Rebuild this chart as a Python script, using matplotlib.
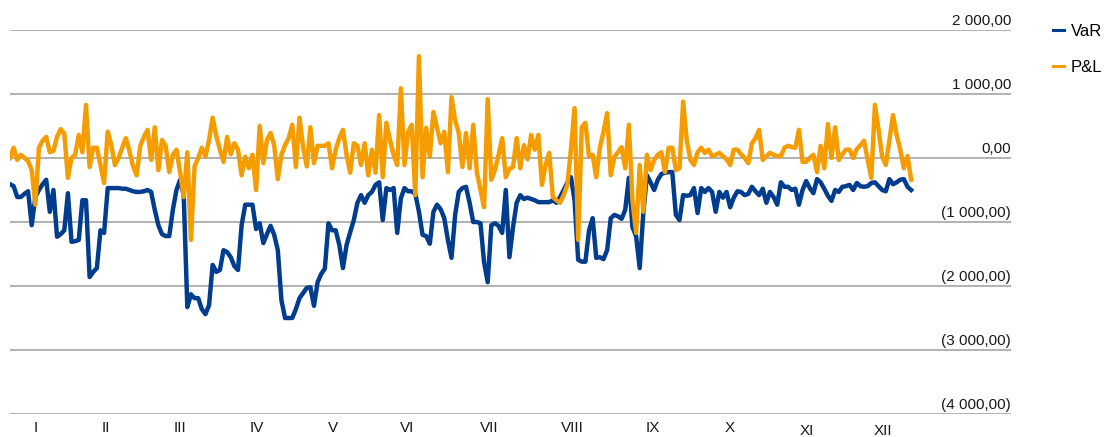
import matplotlib.pyplot as plt
from matplotlib import transforms

# daily values (trading days of the year)
var = [
    -410, -440, -610, -610, -560, -520, -1050, -610, -500, -410,
    -340, -840, -500, -1230, -1190, -1130, -550, -1310, -1300, -1280,
    -660, -660, -1860, -1780, -1720, -1130, -1170, -470, -470, -470,
    -470, -480, -480, -500, -520, -530, -530, -520, -500, -530,
    -810, -1050, -1190, -1220, -1220, -810, -500, -340, -580, -2330,
    -2130, -2190, -2190, -2360, -2440, -2300, -1670, -1780, -1750, -1440,
    -1470, -1550, -1690, -1750, -1050, -730, -730, -730, -1110, -1020,
    -1330, -1190, -1060, -1200, -1440, -2220, -2500, -2500, -2500, -2360,
    -2190, -2110, -2030, -2020, -2310, -1940, -1810, -1730, -1020, -1130,
    -1130, -1360, -1720, -1360, -1160, -970, -700, -580, -700, -580,
    -530, -420, -380, -970, -470, -500, -470, -1170, -630, -470,
    -520, -520, -560, -840, -1200, -1220, -1340, -840, -730, -800,
    -940, -1280, -1560, -890, -530, -470, -450, -700, -1000, -1000,
    -1020, -1630, -1940, -1050, -1020, -1060, -1170, -500, -1550, -1080,
    -700, -580, -640, -620, -640, -660, -690, -690, -690, -690,
    -660, -700, -610, -500, -390, -300, -660, -1590, -1620, -1620,
    -1130, -940, -1560, -1550, -1580, -1440, -940, -890, -910, -950,
    -810, -310, -1080, -1220, -1720, -860, -270, -380, -500, -340,
    -250, -230, -220, -220, -890, -970, -580, -590, -580, -470,
    -860, -470, -530, -470, -530, -840, -530, -620, -530, -770,
    -620, -520, -530, -580, -560, -450, -520, -580, -480, -700,
    -530, -610, -730, -380, -450, -450, -500, -480, -730, -500,
    -360, -470, -550, -330, -380, -480, -590, -670, -500, -530,
    -450, -440, -420, -500, -390, -440, -450, -440, -390, -380,
    -440, -500, -520, -330, -410, -380, -340, -330, -450, -500,
]

pnl = [
    0, 160, -30, 50, 0, -50, -190, -730, 160, 270,
    330, 90, 110, 330, 450, 380, -310, 0, 50, 360,
    90, 830, -140, 160, 160, -110, -390, 410, 200, -110,
    0, 160, 310, 110, -130, -270, 190, 330, 440, -30,
    480, -190, 280, 190, -220, 50, 130, -220, -610, 90,
    -1280, -130, 0, 160, 20, 280, 630, 340, 130, -60,
    330, 60, 230, 130, -270, 20, -160, 50, -500, 500,
    -80, 280, 390, 200, -330, 50, 200, 310, 520, -140,
    630, 170, -130, 480, -80, 190, 190, 190, 230, -160,
    130, 310, 440, 50, -230, 230, 190, -110, 230, -270,
    130, -230, 670, -300, 550, 280, 50, -110, 1090, -110,
    410, 520, -580, 1590, -300, 470, 20, 720, 470, 230,
    410, -220, 950, 590, 390, -140, 390, -160, 520, -220,
    -500, -770, 920, -340, -190, 50, 310, -300, -170, -140,
    310, -160, 200, -20, 360, 130, 360, -420, -110, 80,
    -610, -660, -700, -580, -420, 130, 780, -1280, 480, 550,
    20, 50, -300, 160, 410, 700, -270, 20, 90, 170,
    -160, 520, -660, -1170, -110, -840, 50, -190, -30, 50,
    90, -220, 160, 160, -190, -160, 880, 280, -30, -110,
    90, 160, 80, 130, 30, 50, 80, 30, -20, -110,
    130, 130, 60, 0, -80, 230, 310, 440, -30, 30,
    80, 50, 30, 30, 160, 190, 170, 160, 440, -60,
    -60, 0, 50, -220, 190, -160, 530, 0, 480, -30,
    60, 130, 130, 0, 140, 200, 270, -30, -310, 830,
    440, 20, -110, 280, 670, 360, 130, -160, 30, -340,
]

months = ['I', 'II', 'III', 'IV', 'V', 'VI', 'VII', 'VIII', 'IX', 'X', 'XI', 'XII']
month_pos = [7.2, 26.5, 47.0, 68.3, 89.2, 109.7, 132.4, 155.3, 177.7, 199.0, 220.2, 241.2]
yticks = [2000, 1000, 0, -1000, -2000, -3000, -4000]

blue = '#003D8E'
orange = '#F49C00'


def fmt(v):
    s = f"{abs(v):,.2f}".replace(',', ' ').replace('.', ',')
    return f"({s})" if v < 0 else s


plt.rcParams['font.family'] = ['Liberation Sans', 'DejaVu Sans']

fig = plt.figure(figsize=(11.05, 4.37), dpi=100)
ax = fig.add_axes([10 / 1105, 23 / 437, 1001 / 1105, 384 / 437])

days = list(range(len(var)))
ax.plot(days, var, color=blue, lw=3.2, label='VaR', solid_joinstyle='round', zorder=3)
ax.plot(days, pnl, color=orange, lw=3.2, label='P&L', solid_joinstyle='round', zorder=4)

ax.set_xlim(0, 276.6)
ax.set_ylim(-4000, 2000)
for s in ax.spines.values():
    s.set_visible(False)
ax.set_xticks([])
ax.set_yticks([])

for v in yticks:
    ax.axhline(v, color='#ABABAB', lw=1.3, zorder=1)

# value labels sit above each gridline at the right edge
ytrans = transforms.blended_transform_factory(ax.transAxes, ax.transData)
ytrans = transforms.offset_copy(ytrans, fig=fig, x=0, y=5, units='dots')
for v in yticks:
    ax.text(1.0, v, fmt(v), transform=ytrans, ha='right', va='baseline',
            fontsize=11, color='#1a1a1a')

xtrans = transforms.blended_transform_factory(ax.transData, ax.transAxes)
for p, m in zip(month_pos, months):
    yy = -0.044 if m in ('XI', 'XII') else -0.036
    ax.text(p, yy, m, transform=xtrans, ha='center', va='center',
            fontsize=11, color='#1a1a1a')

leg = ax.legend(loc='upper left', bbox_to_anchor=(1053 / 1105, 413 / 437),
                bbox_transform=fig.transFigure, frameon=False, fontsize=12,
                handlelength=0.66, handletextpad=0.4, labelspacing=1.25,
                borderpad=0, borderaxespad=0)
for h in leg.get_lines():
    h.set_linewidth(2.2)

fig.savefig('out.png', dpi=100)
